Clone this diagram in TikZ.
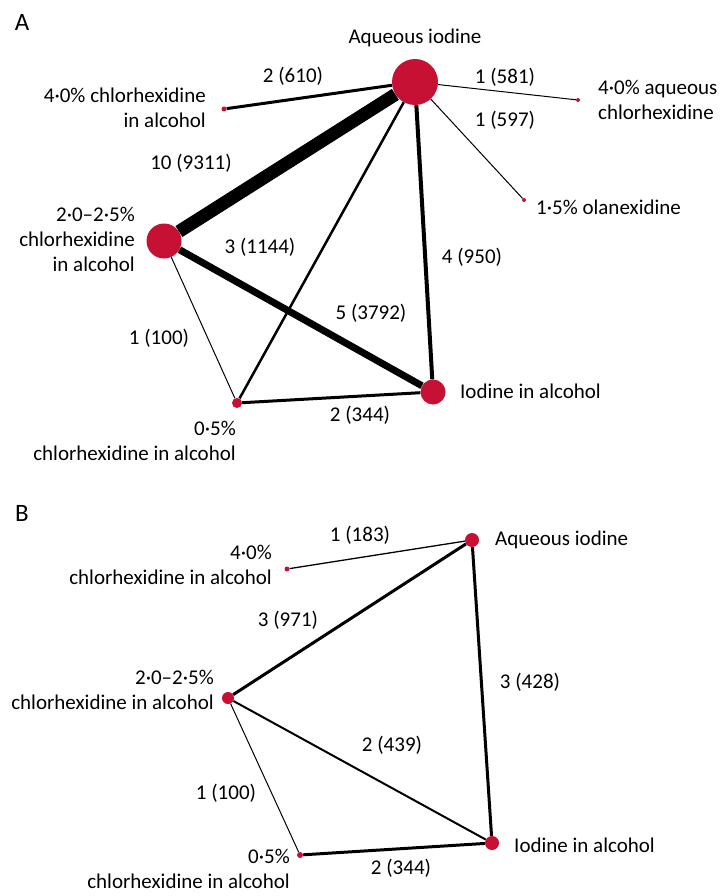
\documentclass[tikz,border=0pt]{standalone}
\usepackage{fontspec}
\setmainfont{Carlito}
\usetikzlibrary{calc}
\definecolor{lancetred}{RGB}{198,16,52}

\begin{document}
\begin{tikzpicture}[x=1pt, y=-1pt, font=\fontsize{21}{25}\selectfont,
  trt/.style={circle, fill=lancetred, inner sep=0pt},
  lbl/.style={align=center, inner sep=1pt},
  num/.style={inner sep=1pt},
  link/.style={line width=#1, line cap=butt}]
  \useasboundingbox (0,0) rectangle (721,896);

  % panel A
  \node[font=\fontsize{25}{28}\selectfont] (pa) at (22,22) {A};
  \node[trt, minimum size=46pt] (aqA) at (415,82) {};
  \node[trt, minimum size=5pt] (c4alcA) at (224,109) {};
  \node[trt, minimum size=4pt] (c4aqA) at (578,100) {};
  \node[trt, minimum size=4pt] (olaA) at (524,200) {};
  \node[trt, minimum size=35pt] (c2A) at (164,241) {};
  \node[trt, minimum size=25pt] (ialcA) at (433,392) {};
  \node[trt, minimum size=10pt] (c05A) at (237,403) {};

  \draw[link=13pt] (aqA) -- (c2A);
  \draw[link=7pt] (c2A) -- (ialcA);
  \draw[link=4pt] (aqA) -- (ialcA);
  \draw[link=3pt] (aqA) -- (c4alcA);
  \draw[link=2.5pt] (aqA) -- (c05A);
  \draw[link=3pt] (c05A) -- (ialcA);
  \draw[link=1pt] (c2A) -- (c05A);
  \draw[link=1pt] (aqA) -- (c4aqA);
  \draw[link=1pt] (aqA) -- (olaA);

  \node[lbl] (aqAl) at (415,38) {Aqueous iodine};
  \node[lbl, align=right, anchor=east] (c4alcAl) at (207,108) {4·0\% chlorhexidine\\in alcohol};
  \node[lbl, align=left, anchor=west] (c4aqAl) at (597,100) {4·0\% aqueous\\chlorhexidine};
  \node[lbl, anchor=west] (olaAl) at (535,207) {1·5\% olanexidine};
  \node[lbl, align=right, anchor=east] (c2Al) at (136,239) {2·0–2·5\%\\chlorhexidine\\in alcohol};
  \node[lbl, anchor=west] (ialcAl) at (459,391) {Iodine in alcohol};
  \node[lbl, align=right, anchor=north east] (c05Al) at (237,420) {0·5\%\\chlorhexidine in alcohol};

  \node[num] (e1A) at (293,76) {2 (610)};
  \node[num] (e2A) at (505,77) {1 (581)};
  \node[num] (e3A) at (505,120) {1 (597)};
  \node[num] (e4A) at (191,163) {10 (9311)};
  \node[num] (e5A) at (260,247) {3 (1144)};
  \node[num] (e6A) at (472,257) {4 (950)};
  \node[num] (e7A) at (371,313) {5 (3792)};
  \node[num] (e8A) at (159,338) {1 (100)};
  \node[num] (e9A) at (360,415) {2 (344)};

  % panel B
  \node[font=\fontsize{25}{28}\selectfont] (pb) at (22,513) {B};
  \node[trt, minimum size=14pt] (aqB) at (472,540) {};
  \node[trt, minimum size=5pt] (c4alcB) at (287,569) {};
  \node[trt, minimum size=12pt] (c2B) at (228,698) {};
  \node[trt, minimum size=14pt] (ialcB) at (492,843) {};
  \node[trt, minimum size=6pt] (c05B) at (300,855) {};

  \draw[link=3pt] (aqB) -- (c2B);
  \draw[link=3pt] (aqB) -- (ialcB);
  \draw[link=2pt] (c2B) -- (ialcB);
  \draw[link=3pt] (c05B) -- (ialcB);
  \draw[link=1pt] (c2B) -- (c05B);
  \draw[link=1.3pt] (aqB) -- (c4alcB);

  \node[lbl, anchor=west] (aqBl) at (494,540) {Aqueous iodine};
  \node[lbl, align=right, anchor=east] (c4alcBl) at (273,565) {4·0\%\\chlorhexidine in alcohol};
  \node[lbl, align=right, anchor=east] (c2Bl) at (215,690) {2·0–2·5\%\\chlorhexidine in alcohol};
  \node[lbl, anchor=west] (ialcBl) at (513,845) {Iodine in alcohol};
  \node[lbl, align=right, anchor=north east] (c05Bl) at (291,848) {0·5\%\\chlorhexidine in alcohol};

  \node[num] (e1B) at (360,535) {1 (183)};
  \node[num] (e2B) at (288,620) {3 (971)};
  \node[num] (e3B) at (530,682) {3 (428)};
  \node[num] (e4B) at (392,745) {2 (439)};
  \node[num] (e5B) at (226,793) {1 (100)};
  \node[num] (e6B) at (401,868) {2 (344)};
\end{tikzpicture}
\end{document}
